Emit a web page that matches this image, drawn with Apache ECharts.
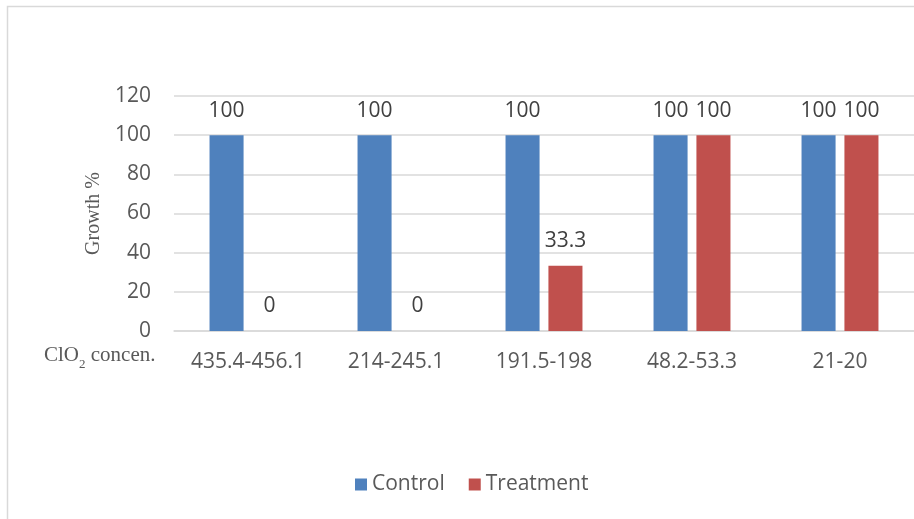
<!DOCTYPE html>
<html>
<head>
<meta charset="utf-8">
<script src="https://cdn.jsdelivr.net/npm/echarts@6/dist/echarts.min.js"></script>
<style>
  html, body { margin: 0; padding: 0; background: #fff; }
  #chart { width: 914px; height: 519px; }
</style>
</head>
<body>
<div id="chart"></div>
<script>
// ClO2 concentration ranges and growth percentages
const categories = ['435.4-456.1', '214-245.1', '191.5-198', '48.2-53.3', '21-20'];
const controlValues = [100, 100, 100, 100, 100];
const treatmentValues = [0, 0, 33.3, 100, 100];
const yTicks = [0, 20, 40, 60, 80, 100, 120];

const textColor = '#595959';
const labelFont = '"Open Sans", "Noto Sans", sans-serif';
const serifFont = '"Liberation Serif", "DejaVu Serif", serif';

const chart = echarts.init(document.getElementById('chart'));

const barLabel = {
  show: true,
  position: 'top',
  distance: 14,
  color: '#404040',
  fontFamily: labelFont,
  fontSize: 21,
  formatter: p => String(p.value)
};

chart.setOption({
  animation: false,
  backgroundColor: '#fff',
  grid: { left: 174, right: -3, top: 96, bottom: 188, containLabel: false },
  legend: {
    top: 469,
    left: 350,
    itemWidth: 12,
    itemHeight: 12,
    itemGap: 24,
    icon: 'rect',
    textStyle: { color: textColor, fontFamily: labelFont, fontSize: 21 },
    data: ['Control', 'Treatment']
  },
  xAxis: {
    type: 'category',
    data: categories,
    axisLine: { show: true, lineStyle: { color: '#d9d9d9', width: 1.5 } },
    axisTick: { show: false },
    axisLabel: { color: textColor, fontFamily: labelFont, fontSize: 21, margin: 21, interval: 0 }
  },
  yAxis: {
    type: 'value',
    min: 0,
    max: yTicks[yTicks.length - 1],
    interval: 20,
    name: 'Growth %',
    nameLocation: 'middle',
    nameGap: 68,
    nameTextStyle: { color: textColor, fontFamily: serifFont, fontSize: 20 },
    axisLine: { show: false },
    axisTick: { show: false },
    axisLabel: { color: textColor, fontFamily: labelFont, fontSize: 21, margin: 23 },
    splitLine: { lineStyle: { color: '#d9d9d9', width: 1.5 } }
  },
  series: [
    {
      name: 'Control',
      type: 'bar',
      data: controlValues,
      barWidth: '23%',
      barGap: '26%',
      itemStyle: { color: '#4f81bd' },
      label: barLabel
    },
    {
      name: 'Treatment',
      type: 'bar',
      data: treatmentValues,
      barWidth: '23%',
      itemStyle: { color: '#c0504d' },
      label: barLabel
    }
  ],
  graphic: [
    {
      type: 'rect',
      shape: { x: 7.5, y: 6.5, width: 1000, height: 600 },
      style: { fill: 'none', stroke: '#d9d9d9', lineWidth: 1.5 },
      silent: true,
      z: -1
    },
    {
      type: 'text',
      left: 44,
      top: 345,
      style: {
        text: '{a|ClO}{s|2}{a| concen.}',
        rich: {
          a: { fontFamily: serifFont, fontSize: 21, fill: textColor, verticalAlign: 'bottom' },
          s: { fontFamily: serifFont, fontSize: 13, fill: textColor, verticalAlign: 'bottom', padding: [0, 0, -5, 0] }
        }
      }
    }
  ]
});
</script>
</body>
</html>
